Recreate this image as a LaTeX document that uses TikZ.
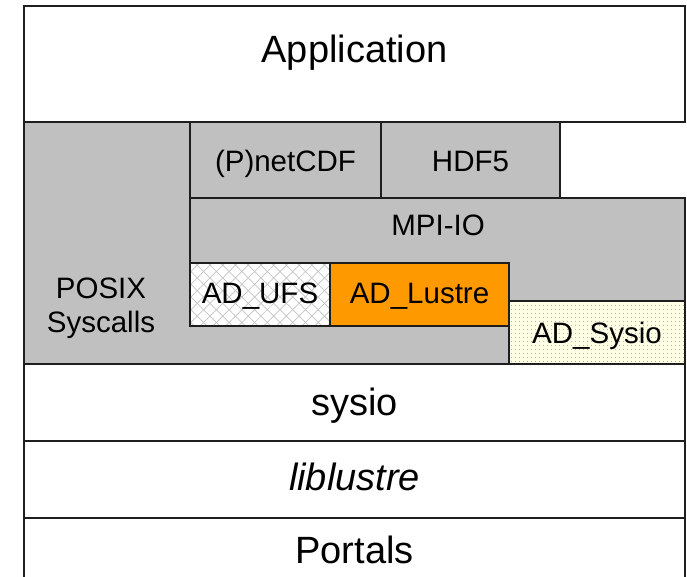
\documentclass[tikz,border=0pt]{standalone}
\usepackage{fontspec}
\setmainfont{Liberation Sans}
\usetikzlibrary{patterns.meta}
\definecolor{silverfill}{HTML}{C0C0C0}
\definecolor{adorange}{HTML}{FF9900}
\definecolor{sysiobg}{HTML}{FFFFE6}
\definecolor{dotcol}{HTML}{A0A088}
\definecolor{hatchcol}{HTML}{C4C4C4}
\definecolor{linecol}{HTML}{1E1E1E}
\tikzset{
  box/.style={rectangle, inner sep=0pt, outer sep=0pt, anchor=north west, line width=1.6pt, draw=linecol},
  area/.style={rectangle, inner sep=0pt, outer sep=0pt, anchor=north west, fill=silverfill},
  edge/.style={line width=1.6pt, draw=linecol, line cap=rect},
  bigtext/.style={font=\fontsize{38}{40}\selectfont, anchor=base, inner sep=0pt},
  smalltext/.style={font=\fontsize{29.5}{32}\selectfont, anchor=base, inner sep=0pt},
}
\begin{document}
\begin{tikzpicture}[x=1pt,y=-1pt]
\useasboundingbox (0,0) rectangle (687,577);
\clip (0,0) rectangle (687,577);
\fill[white] (0,0) rectangle (687,577);
% gray areas
\node[area, minimum width=166pt, minimum height=242pt] (posix) at (24,122) {};
\node[area, minimum width=495pt, minimum height=166pt] (mpiio) at (190,198) {};
% top layer
\node[box, fill=white, minimum width=661pt, minimum height=116pt] (app) at (24,6) {};
\node[box, fill=silverfill, minimum width=191pt, minimum height=76pt] (netcdf) at (190,122) {};
\node[box, fill=silverfill, minimum width=179pt, minimum height=76pt] (hdf5) at (381,122) {};
% ADIO drivers
\node[box, fill=white, minimum width=140pt, minimum height=63pt] (ufs) at (190,263) {};
\fill[pattern={Lines[angle=45,distance=9pt,line width=0.7pt]}, pattern color=hatchcol] (ufs.north west) rectangle (ufs.south east);
\fill[pattern={Lines[angle=-45,distance=9pt,line width=0.7pt]}, pattern color=hatchcol] (ufs.north west) rectangle (ufs.south east);
\draw[edge] (ufs.north west) rectangle (ufs.south east);
\node[box, fill=adorange, minimum width=179pt, minimum height=63pt] (lustre) at (330,263) {};
\node[box, fill=sysiobg, minimum width=176pt, minimum height=63pt] (adsysio) at (509,301) {};
\fill[pattern={Dots[distance=4pt,radius=0.6pt]}, pattern color=dotcol] (adsysio.north west) rectangle (adsysio.south east);
\draw[edge] (adsysio.north west) rectangle (adsysio.south east);
% outlines of gray areas
\draw[edge] (posix.north west) -- (posix.south west);
\draw[edge] (mpiio.north west) -- (mpiio.north east) -- (adsysio.north east);
\draw[edge] (mpiio.north west) -- (ufs.north west);
% lower layers
\node[box, fill=white, minimum width=661pt, minimum height=77pt] (sysio) at (24,364) {};
\node[box, fill=white, minimum width=661pt, minimum height=77pt] (liblustre) at (24,441) {};
\node[box, fill=white, minimum width=661pt, minimum height=80pt] (portals) at (24,518) {};
% labels
\node[bigtext] (appT) at (354.5,63) {Application};
\node[smalltext] (netcdfT) at (285.5,172) {(P)netCDF};
\node[smalltext] (hdf5T) at (470.5,172) {HDF5};
\node[smalltext] (mpiioT) at (438,236) {MPI-IO};
\node[smalltext] (posixT) at (101,298) {POSIX};
\node[smalltext] (syscallsT) at (101,332) {Syscalls};
\node[smalltext] (ufsT) at (260,303) {AD\_UFS};
\node[smalltext] (lustreT) at (419.5,303) {AD\_Lustre};
\node[smalltext] (adsysioT) at (597,343) {AD\_Sysio};
\node[bigtext] (sysioT) at (354.5,415) {sysio};
\node[bigtext, font=\fontsize{38}{40}\selectfont\itshape] (liblustreT) at (354.5,490) {liblustre};
\node[bigtext] (portalsT) at (354.5,563) {Portals};
\end{tikzpicture}
\end{document}
